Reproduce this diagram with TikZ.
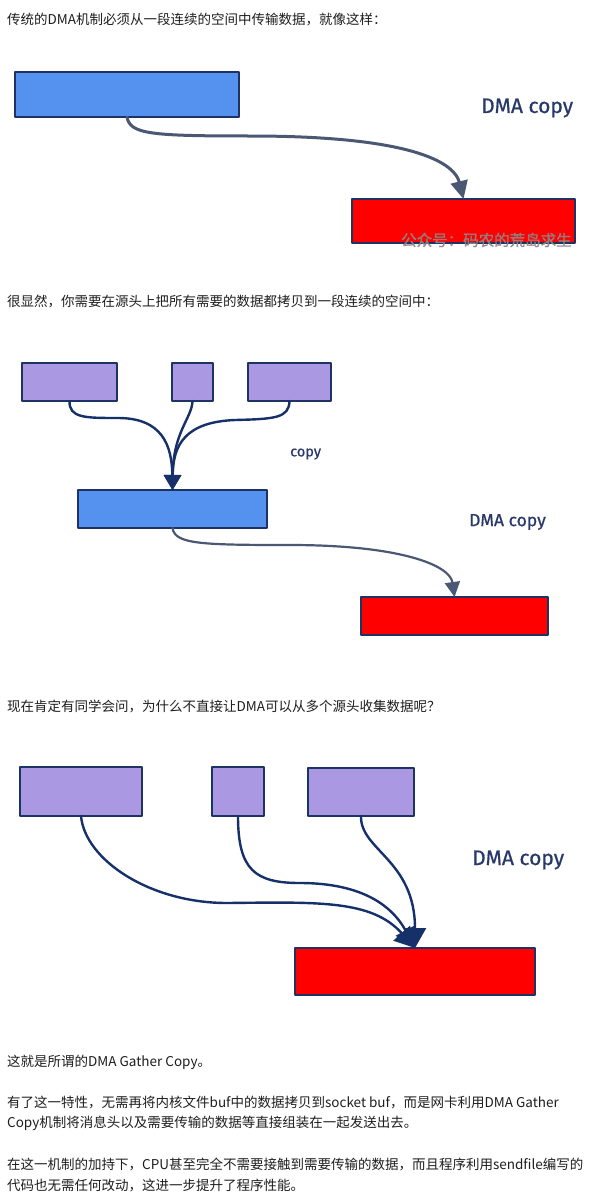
\documentclass[tikz,border=0pt]{standalone}
\usepackage{fontspec}
\newfontfamily\cjk{Noto Sans CJK SC}
\newfontfamily\cjkwm[FakeBold=1.2]{Noto Sans CJK SC}
\newfontfamily\hand[FakeBold=0.6]{Fira Sans}
\usetikzlibrary{arrows.meta}
\definecolor{blueF}{RGB}{85,146,239}
\definecolor{redF}{RGB}{255,0,0}
\definecolor{purpF}{RGB}{171,152,226}
\definecolor{edgeC}{RGB}{30,50,100}
\definecolor{greyA}{RGB}{75,88,115}
\definecolor{navyA}{RGB}{22,48,105}
\definecolor{labelC}{RGB}{39,56,107}
\definecolor{textC}{RGB}{30,30,30}
\definecolor{wmC}{RGB}{140,135,135}
\begin{document}
\begin{tikzpicture}[x=1pt,y=-1pt,
  box/.style={draw=edgeC, line width=2.2pt, inner sep=0pt, outer sep=0pt, anchor=north west, line join=round},
  txt/.style={font=\cjk\fontsize{13.5}{16}\selectfont, text=textC, inner sep=0pt, anchor=west},
  lbl/.style={font=\hand\fontsize{#1}{#1}\selectfont, text=labelC, inner sep=0pt, anchor=west},
  greyarrow/.style={draw=greyA, line width=#1, line cap=round},
  navyarrow/.style={draw=navyA, line width=2.4pt, line cap=round},
]
\useasboundingbox[fill=white] (0,0) rectangle (603,1199);

% ---------- text ----------
\node[txt] (t1) at (7,20) {传统的DMA机制必须从一段连续的空间中传输数据，就像这样：};
\node[txt] (t2) at (7,301) {很显然，你需要在源头上把所有需要的数据都拷贝到一段连续的空间中：};
\node[txt] (t3) at (7,706) {现在肯定有同学会问，为什么不直接让DMA可以从多个源头收集数据呢？};
\node[txt] (t4) at (7,1062) {这就是所谓的DMA Gather Copy。};
\node[txt] (t5) at (7,1102) {有了这一特性，无需再将内核文件buf中的数据拷贝到socket buf，而是网卡利用DMA Gather};
\node[txt] (t6) at (7,1123) {Copy机制将消息头以及需要传输的数据等直接组装在一起发送出去。};
\node[txt] (t7) at (7,1164) {在这一机制的加持下，CPU甚至完全不需要接触到需要传输的数据，而且程序利用sendfile编写的};
\node[txt] (t8) at (7,1185) {代码也无需任何改动，这进一步提升了程序性能。};

% ---------- diagram 1 ----------
\node[box, fill=blueF, minimum width=224pt, minimum height=45pt] (b1) at (15,72) {};
\node[box, fill=redF, minimum width=223pt, minimum height=44pt] (r1) at (352,199) {};
\node[lbl=21] (l1) at (481,108) {DMA copy};
\node[font=\cjkwm\fontsize{15.5}{16}\selectfont, text=wmC, opacity=0.9, inner sep=0pt, anchor=west] (wm) at (401,240) {公众号：码农的荒岛求生};
\draw[greyarrow=3pt, -{Triangle[length=18pt,width=17pt]}]
  (b1.south) .. controls (130,134) and (150,136) .. (250,136)
  .. controls (420,136) and (455,165) .. (r1.north);

% ---------- diagram 2 ----------
\node[box, fill=purpF, minimum width=95pt, minimum height=38pt] (p1) at (22,363) {};
\node[box, fill=purpF, minimum width=41pt, minimum height=38pt] (p2) at (172,363) {};
\node[box, fill=purpF, minimum width=83pt, minimum height=38pt] (p3) at (248,363) {};
\node[box, fill=blueF, minimum width=189pt, minimum height=38pt] (b2) at (78,490) {};
\node[box, fill=redF, minimum width=187pt, minimum height=38pt] (r2) at (361,597) {};
\node[lbl=14.5] (l2) at (290,454) {copy};
\node[lbl=17.5] (l3) at (469,522) {DMA copy};
\draw[navyarrow, -{Triangle[length=15pt,width=17pt]}]
  (p1.south) .. controls (69,418) and (85,418) .. (118,418)
  .. controls (162,418) and (172,445) .. (b2.north);
\draw[navyarrow, -{Triangle[length=15pt,width=17pt]}]
  (p2.south) .. controls (192,418) and (173,432) .. (b2.north);
\draw[navyarrow, -{Triangle[length=15pt,width=17pt]}]
  (p3.south) .. controls (289,418) and (275,419) .. (235,420)
  .. controls (185,422) and (173,445) .. (b2.north);
\draw[greyarrow=2.2pt, -{Triangle[length=15pt,width=15pt]}]
  (b2.south) .. controls (175,544) and (200,545) .. (290,545)
  .. controls (400,545) and (450,565) .. (r2.north);

% ---------- diagram 3 ----------
\node[box, fill=purpF, minimum width=122pt, minimum height=49pt] (p4) at (20,767) {};
\node[box, fill=purpF, minimum width=52pt, minimum height=49pt] (p5) at (212,767) {};
\node[box, fill=purpF, minimum width=106pt, minimum height=48pt] (p6) at (308,768) {};
\node[box, fill=redF, minimum width=240pt, minimum height=47pt] (r3) at (295,948) {};
\node[lbl=21] (l4) at (472,860) {DMA copy};
\draw[navyarrow, -{Triangle[length=20pt,width=22pt]}]
  (p4.south) .. controls (85,860) and (150,903) .. (227,903)
  .. controls (320,902) and (372,900) .. (r3.north);
\draw[navyarrow, -{Triangle[length=20pt,width=22pt]}]
  (p5.south) .. controls (238,870) and (255,883) .. (300,883)
  .. controls (350,883) and (388,898) .. (r3.north);
\draw[navyarrow, -{Triangle[length=20pt,width=22pt]}]
  (p6.south) .. controls (360,850) and (415,860) .. (r3.north);
\end{tikzpicture}
\end{document}
